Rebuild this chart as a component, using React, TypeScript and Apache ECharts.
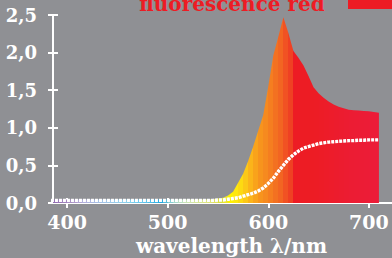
import React, { useEffect, useRef } from "react";
import * as echarts from "echarts";

const wavelengths = [
  380, 385, 390, 395, 400, 405, 410, 415, 420, 425, 430, 435, 440, 445, 450, 455, 460, 465, 470, 475,
  480, 485, 490, 495, 500, 505, 510, 515, 520, 525, 530, 535, 540, 545, 550, 555, 560, 565, 570, 575,
  580, 585, 590, 595, 600, 605, 610, 615, 620, 625, 630, 635, 640, 645, 650, 655, 660, 665, 670, 675,
  680, 685, 690, 695, 700, 705, 710,
];

const fluorescence = [
  0.045, 0.045, 0.045, 0.045, 0.045, 0.045, 0.045, 0.045, 0.045, 0.045, 0.045, 0.045, 0.045, 0.045, 0.045, 0.045, 0.045, 0.045, 0.045, 0.045,
  0.045, 0.045, 0.045, 0.045, 0.045, 0.045, 0.045, 0.045, 0.045, 0.045, 0.045, 0.045, 0.045, 0.05, 0.06, 0.07, 0.1, 0.15, 0.27, 0.39,
  0.56, 0.75, 0.96, 1.17, 1.55, 1.96, 2.21, 2.47, 2.26, 2.02, 1.93, 1.83, 1.69, 1.54, 1.46, 1.4, 1.35, 1.31, 1.28, 1.26,
  1.24, 1.235, 1.23, 1.225, 1.22, 1.21, 1.2,
];

const cumulative = [
  0.035, 0.035, 0.035, 0.035, 0.035, 0.035, 0.035, 0.035, 0.035, 0.035, 0.035, 0.035, 0.035, 0.035, 0.035, 0.035, 0.035, 0.035, 0.035, 0.035,
  0.035, 0.035, 0.035, 0.035, 0.035, 0.035, 0.035, 0.035, 0.035, 0.035, 0.035, 0.035, 0.035, 0.035, 0.04, 0.04, 0.05, 0.06, 0.07, 0.09,
  0.11, 0.13, 0.16, 0.2, 0.26, 0.33, 0.42, 0.5, 0.58, 0.64, 0.69, 0.73, 0.75, 0.77, 0.79, 0.8, 0.81, 0.815, 0.82, 0.825,
  0.83, 0.83, 0.835, 0.835, 0.84, 0.84, 0.84,
];

const bandColors = [
  "#8e6bb0", "#9470b4", "#9a78b8", "#a083bd", "#a88fc4", "#b09acb", "#b3a6d4", "#b2b0dc", "#aeb6e0", "#aabbe2",
  "#a6c0e4", "#a2c4e6", "#9fc8e8", "#9bcbe9", "#97ceea", "#8ecfeb", "#84d0ec", "#79ccec", "#6cc8ec", "#5ec2ea",
  "#4fbce8", "#3cb4e5", "#27aae1", "#55bcdc", "#86cdd5", "#a8d8cd", "#bcdfc3", "#c8e3b8", "#d0e5ad", "#d5e6a0",
  "#d9e692", "#dce584", "#dee476", "#dfe260", "#dde03a", "#eee926", "#fff200", "#fee80e", "#fdda12", "#fcc817",
  "#fbb41a", "#f9a31b", "#f7941d", "#f68a1f", "#f57e20", "#f37121", "#f26522", "#f15223", "#ef4123", "#ed1c24",
  "#ed1c24", "#ed1c24", "#ed1c24", "#ed1c25", "#ed1c27", "#ed1c29", "#ed1c2b", "#ec1c2d", "#ec1c2f", "#ec1c31",
  "#ec1c33", "#ec1c34", "#ec1c35", "#ec1c36", "#ec1c37", "#ec1c38", "#ec1c38",
];

const xTicks = [400, 500, 600, 700];
const xMin = 386;
const xMax = 723;
const yMin = 0;
const yMax = 2.5;
const yStep = 0.5;

const titleText = "fluorescence red";
const xName = "wavelength λ/nm";

const FONT = '"DejaVu Serif", "Liberation Serif", serif';

export default function App() {
  const ref = useRef<HTMLDivElement>(null);
  useEffect(() => {
    document.body.style.margin = "0";
    const chart = echarts.init(ref.current!, null, { renderer: "svg" });
    const w0 = wavelengths[0];
    const span = wavelengths[wavelengths.length - 1] - w0;
    const stops: { offset: number; color: string }[] = [];
    for (let i = 0; i < wavelengths.length - 1; i++) {
      stops.push({ offset: (wavelengths[i] - w0) / span, color: bandColors[i] });
      stops.push({ offset: (wavelengths[i + 1] - w0) / span, color: bandColors[i] });
    }
    const gradient = new echarts.graphic.LinearGradient(0, 0, 1, 0, stops);
    const tickStyle = { color: "#ffffff", width: 2 };
    const labelStyle = { color: "#ffffff", fontFamily: FONT, fontWeight: "bold" as const, fontSize: 18 };
    chart.setOption({
      animation: false,
      backgroundColor: "#8f9094",
      grid: { left: 53, right: 0, top: 15, bottom: 55, outerBoundsMode: "none" },
      graphic: [
        {
          type: "text",
          x: 232,
          y: 4,
          style: {
            text: titleText,
            fill: "#ed1c24",
            font: `bold 20px ${FONT}`,
            align: "center",
            verticalAlign: "middle",
            textAlign: "center",
            textVerticalAlign: "middle",
          },
        },
        {
          type: "rect",
          shape: { x: 348, y: -10, width: 50, height: 19 },
          style: { fill: "#ed1c24" },
        },
      ],
      xAxis: [
        {
          type: "value",
          min: xMin,
          max: xMax,
          axisLine: { show: true, lineStyle: tickStyle },
          axisTick: { show: true, inside: true, length: 5, lineStyle: tickStyle, customValues: xTicks },
          axisLabel: { ...labelStyle, fontSize: 19, customValues: xTicks, margin: 19, verticalAlign: "middle" },
          splitLine: { show: false },
          name: xName,
          nameLocation: "middle",
          nameGap: 43,
          nameTextStyle: { ...labelStyle, fontSize: 20, verticalAlign: "middle", padding: [0, 0, 0, 18] },
        },
        {
          type: "value",
          min: xMin,
          max: xMax,
          position: "bottom",
          axisLine: { show: false },
          axisTick: { show: true, inside: false, length: 5, lineStyle: tickStyle, customValues: xTicks },
          axisLabel: { show: false },
          splitLine: { show: false },
        },
      ],
      yAxis: [
        {
          type: "value",
          min: yMin,
          max: yMax,
          interval: yStep,
          axisLine: { show: true, lineStyle: tickStyle },
          axisTick: { show: true, inside: true, length: 5, lineStyle: tickStyle },
          axisLabel: {
            ...labelStyle,
            margin: 16,
            formatter: (v: number) => v.toFixed(1).replace(".", ","),
          },
          splitLine: { show: false },
        },
        {
          type: "value",
          min: yMin,
          max: yMax,
          interval: yStep,
          position: "left",
          axisLine: { show: false },
          axisTick: { show: true, inside: false, length: 5, lineStyle: tickStyle },
          axisLabel: { show: false },
          splitLine: { show: false },
        },
      ],
      series: [
        {
          name: titleText,
          type: "line",
          xAxisIndex: 0,
          yAxisIndex: 0,
          data: wavelengths.map((w, i) => [w, fluorescence[i]]),
          showSymbol: false,
          lineStyle: { width: 0 },
          areaStyle: { color: gradient, opacity: 1 },
          z: 2,
        },
        {
          name: "cumulative",
          type: "line",
          xAxisIndex: 0,
          yAxisIndex: 0,
          data: wavelengths.map((w, i) => [w, cumulative[i]]),
          showSymbol: false,
          lineStyle: { color: "#ffffff", width: 3.4, type: [3, 1] },
          z: 3,
        },
      ],
    });
    return () => chart.dispose();
  }, []);
  return (
    <div
      ref={ref}
      style={{ position: "absolute", left: 0, top: 0, width: 392, height: 258 }}
    />
  );
}
